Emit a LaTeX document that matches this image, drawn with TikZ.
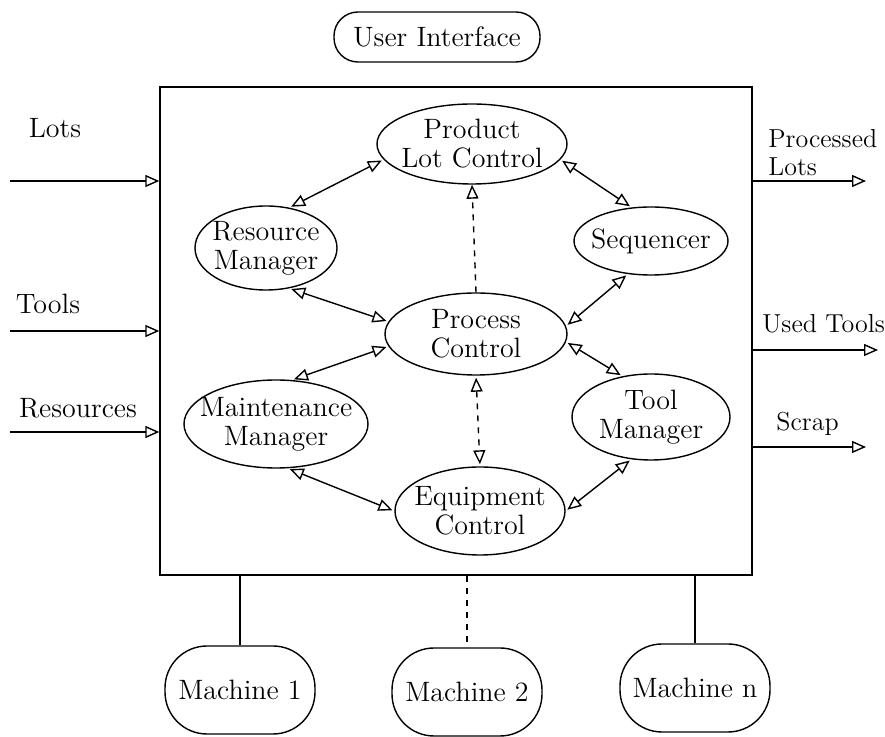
\documentclass[tikz,border=0pt]{standalone}
\usetikzlibrary{arrows.meta,shapes.geometric}

\tikzset{
    txt/.style={font=\fontsize{14}{14.5}\selectfont},
    outtxt/.style={font=\fontsize{13}{14}\selectfont, inner sep=1pt},
    module/.style={draw, ellipse, align=center, inner sep=-30pt, line width=0.7pt, txt},
    machine/.style={draw, rectangle, rounded corners=21pt, minimum width=75pt, minimum height=44pt, line width=0.7pt, txt},
    link/.style={{Triangle[open,length=7pt,width=6pt]}-{Triangle[open,length=7pt,width=6pt]}, line width=0.7pt, shorten <=1pt, shorten >=1pt},
    flow/.style={-{Triangle[open,length=7pt,width=6pt]}, line width=0.7pt}
}

\begin{document}
\begin{tikzpicture}[x=0.5pt,y=-0.5pt]
        \useasboundingbox (0,0) rectangle (885,737);

        % user interface and frame
        \node[draw, rectangle, rounded corners=12pt, minimum width=103pt, minimum height=25pt, line width=0.7pt, txt] (ui) at (437,37) {User Interface};
        \node[draw, rectangle, minimum width=296pt, minimum height=244pt, inner sep=0pt, line width=0.7pt] (frame) at (456,331) {};

        % modules
        \node[module, minimum width=95pt, minimum height=40pt] (plc) at (472,144) {Product\\Lot Control};
        \node[module, minimum width=71pt, minimum height=42pt] (rm) at (266,248) {Resource\\Manager};
        \node[module, minimum width=77pt, minimum height=34pt] (seq) at (651,241) {Sequencer};
        \node[module, minimum width=91pt, minimum height=41pt] (pc) at (476,334) {Process\\Control};
        \node[module, minimum width=92pt, minimum height=44pt] (mm) at (276,424) {Maintenance\\Manager};
        \node[module, minimum width=79pt, minimum height=43pt] (tm) at (651,417) {Tool\\Manager};
        \node[module, minimum width=85pt, minimum height=44pt] (ec) at (480,511) {Equipment\\Control};

        \draw[link] (rm.60) -- (plc.190);
        \draw[link] (plc.-10) -- (seq.120);
        \draw[link] (rm.-60) -- (pc.172);
        \draw[link] (mm.70) -- (pc.188);
        \draw[link] (seq.-125) -- (pc.5);
        \draw[link] (tm.125) -- (pc.-5);
        \draw[link] (mm.-75) -- (ec.180);
        \draw[link] (tm.-115) -- (ec.0);
        \draw[flow, dashed] (pc.north) -- (plc.south);
        \draw[link, dashed] (pc.south) -- (ec.north);

        % inputs
        \coordinate (lots) at (10,181);
        \coordinate (tools) at (10,331);
        \coordinate (res) at (10,432);
        \draw[flow] (lots) -- (lots -| frame.west);
        \draw[flow] (tools) -- (tools -| frame.west);
        \draw[flow] (res) -- (res -| frame.west);
        \node[txt] (lotslbl) at (55,128) {Lots};
        \node[txt] (toolslbl) at (48,304) {Tools};
        \node[txt] (reslbl) at (78,408) {Resources};

        % outputs
        \coordinate (plots) at (866,181);
        \coordinate (utools) at (878,350);
        \coordinate (scrap) at (866,447);
        \draw[flow] (plots -| frame.east) -- (plots);
        \draw[flow] (utools -| frame.east) -- (utools);
        \draw[flow] (scrap -| frame.east) -- (scrap);
        \node[outtxt, anchor=south west, align=left] (plotslbl) at (766,178) {Processed\\Lots};
        \node[outtxt, anchor=west] (utoolslbl) at (760,324) {Used Tools};
        \node[outtxt, anchor=west] (scraplbl) at (774,424) {Scrap};

        % machines
        \node[machine] (m1) at (240,690) {Machine 1};
        \node[machine] (m2) at (467,692) {Machine 2};
        \node[machine] (mn) at (695,688) {Machine n};
        \draw[line width=0.6pt] (m1 |- frame.south) -- (m1.north);
        \draw[line width=0.6pt, dashed] (m2 |- frame.south) -- (m2.north);
        \draw[line width=0.6pt] (mn |- frame.south) -- (mn.north);
    \end{tikzpicture}
\end{document}
